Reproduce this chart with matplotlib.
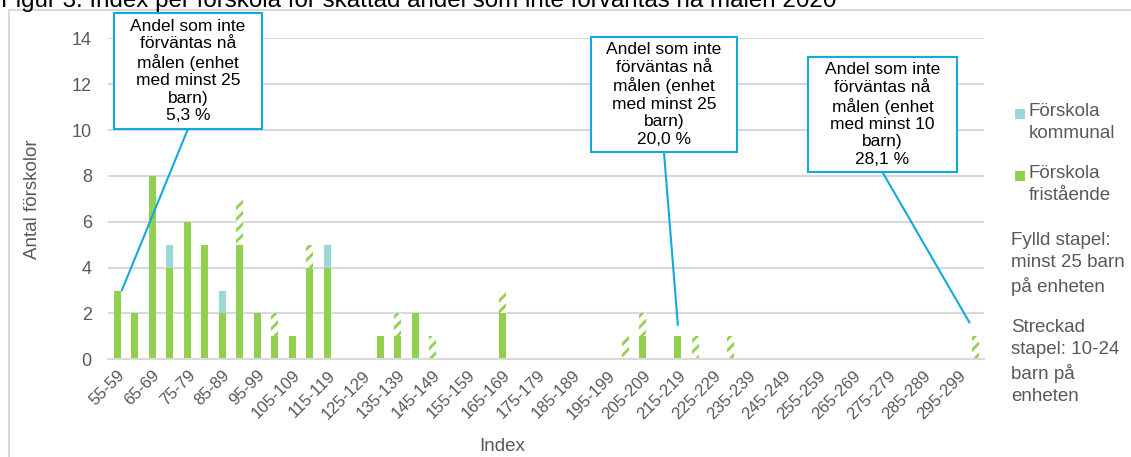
import numpy as np
import matplotlib.pyplot as plt
from matplotlib.patches import Rectangle

plt.rcParams['font.family'] = ['Liberation Sans', 'DejaVu Sans']
plt.rcParams['hatch.linewidth'] = 2.0

# Index intervals 55-59 ... 300-304
categories = [f"{lo}-{lo + 4}" for lo in range(55, 305, 5)]

# Antal förskolor per intervall
fristaende_fylld = [3, 2, 8, 4, 6, 5, 2, 5, 2, 1,
                    1, 4, 4, 0, 0, 1, 1, 2, 0, 0,
                    0, 0, 2, 0, 0, 0, 0, 0, 0, 0,
                    1, 0, 1, 0, 0, 0, 0, 0, 0, 0,
                    0, 0, 0, 0, 0, 0, 0, 0, 0, 0]
kommunal_fylld = [0, 0, 0, 1, 0, 0, 1, 0, 0, 0,
                  0, 0, 1, 0, 0, 0, 0, 0, 0, 0,
                  0, 0, 0, 0, 0, 0, 0, 0, 0, 0,
                  0, 0, 0, 0, 0, 0, 0, 0, 0, 0,
                  0, 0, 0, 0, 0, 0, 0, 0, 0, 0]
fristaende_streckad = [0, 0, 0, 0, 0, 0, 0, 2, 0, 1,
                       0, 1, 0, 0, 0, 0, 1, 0, 1, 0,
                       0, 0, 1, 0, 0, 0, 0, 0, 0, 1,
                       1, 0, 0, 1, 0, 1, 0, 0, 0, 0,
                       0, 0, 0, 0, 0, 0, 0, 0, 0, 1]

# Pratbubblor: text, intervall de pekar på
callout_texts = [
    "Andel som inte\nförväntas nå\nmålen (enhet\nmed minst 25\nbarn)\n5,3 %",
    "Andel som inte\nförväntas nå\nmålen (enhet\nmed minst 25\nbarn)\n20,0 %",
    "Andel som inte\nförväntas nå\nmålen (enhet\nmed minst 10\nbarn)\n28,1 %",
]
callout_targets = ["55-59", "215-219", "300-304"]

GREEN = '#92D050'
TEAL = '#9DD8D8'
BLUE = '#12A9DE'
GREY_TEXT = '#595959'
GRID = '#D9D9D9'

W, H = 1131, 457


def px(x, y):
    """pixel position (from top left) -> figure fraction"""
    return x / W, 1 - y / H


fig = plt.figure(figsize=(W / 100, H / 100), dpi=100)
ax = fig.add_axes([0.0959, 0.2138, 0.7745, 0.7024])

x = np.arange(len(categories))
g = np.array(fristaende_fylld)
k = np.array(kommunal_fylld)
s = np.array(fristaende_streckad)
bw = 0.4

ax.bar(x, g, bw, color=GREEN, zorder=2)
ax.bar(x, k, bw, bottom=g, color=TEAL, zorder=2)
ax.bar(x, s, bw, bottom=g + k, facecolor='white', edgecolor=GREEN,
       hatch='///', linewidth=0, zorder=2)

ax.set_xlim(-0.5, len(categories) - 0.5)
ax.set_ylim(0, 14)
ax.set_yticks(range(0, 15, 2))
ax.set_xticks(x[::2])
ax.set_xticklabels(categories[::2], rotation=45, ha='right',
                   rotation_mode='anchor')
ax.tick_params(axis='both', length=0, labelcolor=GREY_TEXT)
ax.tick_params(axis='x', pad=6, labelsize=12)
ax.tick_params(axis='y', pad=12, labelsize=13)

ax.yaxis.grid(True, color=GRID, linewidth=1.5, zorder=0)
ax.set_axisbelow(True)
for side in ['top', 'right', 'left']:
    ax.spines[side].set_visible(False)
ax.spines['bottom'].set_color(GRID)
ax.spines['bottom'].set_linewidth(1.5)

ax.set_ylabel('Antal förskolor', fontsize=13.5, color=GREY_TEXT)
ax.yaxis.set_label_coords(-0.077, 0.5)
ax.set_xlabel('Index', fontsize=13.5, color=GREY_TEXT)
ax.xaxis.set_label_coords(0.449, -0.245)

# Pratbubblor (axes fraction) och linjer ned till staplarna
boxes = [(0.0063, 0.7174, 0.1689, 0.3614),
         (0.5508, 0.6458, 0.1667, 0.3582),
         (0.7985, 0.5832, 0.1701, 0.3585)]
offsets = [(0.26, 0.0), (0.0, 0.5), (-0.35, 0.6)]
totals = g + k + s
for text, target, (bx, by, bwid, bh), (dx, dy) in zip(
        callout_texts, callout_targets, boxes, offsets):
    i = categories.index(target)
    ax.add_patch(Rectangle((bx, by), bwid, bh, transform=ax.transAxes,
                           facecolor='white', edgecolor=BLUE, linewidth=1.5,
                           clip_on=False, zorder=5))
    ax.text(bx + bwid / 2, by + bh / 2, text, transform=ax.transAxes,
            ha='center', va='center', fontsize=12.5, linespacing=1.2,
            color='black', zorder=6)
    ax.annotate('', xy=(i + dx, totals[i] + dy), xycoords='data',
                xytext=(bx + bwid / 2, by), textcoords='axes fraction',
                arrowprops=dict(arrowstyle='-', color=BLUE, lw=1.5,
                                shrinkA=0, shrinkB=0),
                annotation_clip=False, zorder=4)

# Förklaring till höger
for color, label, ytop in [(TEAL, 'Förskola\nkommunal', 103),
                           (GREEN, 'Förskola\nfristående', 165)]:
    fx, fy = px(1015, ytop + 16)
    fig.add_artist(Rectangle((fx, fy), 10 / W, 10 / H, transform=fig.transFigure,
                             facecolor=color, edgecolor='none'))
    tx, ty = px(1029, ytop)
    fig.text(tx, ty, label, fontsize=13.5, color=GREY_TEXT, va='top',
             linespacing=1.4)

for label, ytop in [('Fylld stapel:\nminst 25 barn\npå enheten', 232),
                    ('Streckad\nstapel: 10-24\nbarn på\nenheten', 319)]:
    tx, ty = px(1011, ytop)
    fig.text(tx, ty, label, fontsize=13.5, color=GREY_TEXT, va='top',
             linespacing=1.4)

# Ram och rubrik
fx, fy = px(9, 10)
fig.add_artist(Rectangle((fx, -0.1), 1.2, fy + 0.1, transform=fig.transFigure,
                         fill=False, edgecolor=GRID, linewidth=1.5))
tx, ty = px(1, 7)
fig.text(tx, ty, 'Figur 3. Index per förskola för skattad andel som inte '
         'förväntas nå målen 2020', fontsize=17.4, color='black', va='baseline')

fig.savefig('out.png', dpi=100)
